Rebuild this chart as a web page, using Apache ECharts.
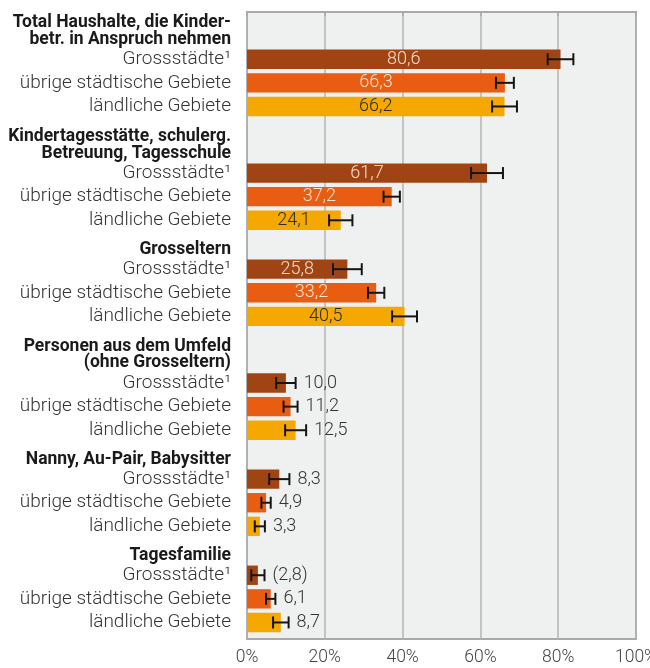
<!DOCTYPE html>
<html>
<head>
<meta charset="utf-8">
<script src="https://cdn.jsdelivr.net/npm/echarts@6/dist/echarts.min.js"></script>
<style>
  html, body { margin: 0; padding: 0; background: #fff; }
  #chart { width: 650px; height: 668px; }
</style>
</head>
<body>
<div id="chart"></div>
<script>
// Gruppen (Kopfzeilen) und Regionen
const groups = [
  'Total Haushalte, die Kinder-\nbetr. in Anspruch nehmen',
  'Kindertagesstätte, schulerg.\nBetreuung, Tagesschule',
  'Grosseltern',
  'Personen aus dem Umfeld\n(ohne Grosseltern)',
  'Nanny, Au-Pair, Babysitter',
  'Tagesfamilie'
];
const regions = ['Grossstädte¹', 'übrige städtische Gebiete', 'ländliche Gebiete'];

// Werte in %
const grossstaedte = [80.6, 61.7, 25.8, 10.0, 8.3, 2.8];
const uebrigeStaedtisch = [66.3, 37.2, 33.2, 11.2, 4.9, 6.1];
const laendlich = [66.2, 24.1, 40.5, 12.5, 3.3, 8.7];

// Vertrauensintervalle (+/-)
const errGross = [3.3, 4.1, 3.7, 2.5, 2.6, 1.7];
const errUebrig = [2.3, 2.1, 2.1, 1.8, 1.2, 1.2];
const errLaendlich = [3.2, 3.0, 3.2, 2.7, 1.3, 2.0];

// Werte in Klammern: [gruppe, region]
const bracketed = [[5, 0]];

const xTicks = [0, 20, 40, 60, 80, 100];

const colors = ['#a14414', '#e85d12', '#f5a800'];
const insideColors = ['#f6dccb', '#f9e2d2', '#2b2b2b'];
const FONT = 'Roboto, "Noto Sans", sans-serif';

// Zeilenpositionen (Einheit = Balkenabstand)
const rowPos = [];
let pos = 0;
groups.forEach((name, i) => {
  const n = name.split('\n').length;
  pos += (i === 0 ? 0.5 : 1.32) + 0.75 * n;
  rowPos.push([pos, pos + 1, pos + 2]);
  pos += 2;
});
const yMax = pos + 0.7;

const seriesValues = [grossstaedte, uebrigeStaedtisch, laendlich];
const seriesErrors = [errGross, errUebrig, errLaendlich];

function fmt(v, g, r) {
  let s = v.toFixed(1).replace('.', ',');
  if (bracketed.some(b => b[0] === g && b[1] === r)) s = '(' + s + ')';
  return s;
}

function makeRender(r) {
  return function (params, api) {
    const v = api.value(0), p = api.value(1), err = api.value(2), g = api.value(3);
    const p0 = api.coord([0, p]);
    const p1 = api.coord([v, p]);
    const lo = api.coord([v - err, p]);
    const hi = api.coord([v + err, p]);
    const h = api.size([0, 1])[1] * 0.82;
    const cy = p0[1];
    const children = [];
    children.push({
      type: 'rect',
      shape: { x: p0[0], y: cy - h / 2, width: p1[0] - p0[0], height: h },
      style: { fill: colors[r] }
    });
    // Fehlerbalken
    const cap = 6;
    const ls = { stroke: '#151515', lineWidth: 2 };
    children.push({ type: 'line', shape: { x1: lo[0], y1: cy, x2: hi[0], y2: cy }, style: ls });
    children.push({ type: 'line', shape: { x1: lo[0], y1: cy - cap, x2: lo[0], y2: cy + cap }, style: ls });
    children.push({ type: 'line', shape: { x1: hi[0], y1: cy - cap, x2: hi[0], y2: cy + cap }, style: ls });
    // Wertbeschriftung
    const inside = v > 20;
    children.push({
      type: 'text',
      x: inside ? (p0[0] + p1[0]) / 2 : hi[0] + 8,
      y: cy,
      style: {
        text: fmt(v, g, r),
        fill: inside ? insideColors[r] : '#333',
        fontSize: 18, fontFamily: FONT, fontWeight: 300,
        align: inside ? 'center' : 'left', verticalAlign: 'middle'
      }
    });
    // Zeilenbeschriftung
    children.push({
      type: 'text',
      x: p0[0] - 16,
      y: cy,
      style: {
        text: regions[r], fill: '#333',
        fontSize: 19, fontFamily: FONT, fontWeight: 300,
        align: 'right', verticalAlign: 'middle'
      }
    });
    if (r === 0) {
      children.push({
        type: 'text',
        x: p0[0] - 16,
        y: cy - h / 2 - 2,
        style: {
          text: groups[g], fill: '#1a1a1a',
          fontSize: 17.5, fontFamily: FONT, fontWeight: 'bold', lineHeight: 16.5,
          align: 'right', verticalAlign: 'bottom'
        }
      });
    }
    return { type: 'group', children: children };
  };
}

const series = regions.map((name, r) => ({
  name: name,
  type: 'custom',
  renderItem: makeRender(r),
  encode: { x: 0, y: 1 },
  clip: false,
  data: seriesValues[r].map((v, i) => [v, rowPos[i][r], seriesErrors[r][i], i])
}));

const chart = echarts.init(document.getElementById('chart'));
chart.setOption({
  animation: false,
  grid: {
    left: 247, right: 14, top: 12, bottom: 29,
    outerBoundsMode: 'none', containLabel: false,
    show: true, backgroundColor: '#eff0f0',
    borderColor: '#a9a9a9', borderWidth: 2
  },
  xAxis: {
    type: 'value',
    min: xTicks[0], max: xTicks[xTicks.length - 1], interval: 20,
    axisLine: { show: true, lineStyle: { color: '#a9a9a9', width: 2 } },
    axisTick: { show: true, length: 4, lineStyle: { color: '#a9a9a9', width: 1.5 } },
    splitLine: { show: true, lineStyle: { color: '#b5b5b5', width: 1.5 } },
    axisLabel: {
      formatter: '{value}%', color: '#444', fontSize: 17.5,
      fontFamily: FONT, fontWeight: 300, margin: 10
    }
  },
  yAxis: {
    type: 'value', inverse: true, min: 0, max: yMax, show: false
  },
  series: series
});
</script>
</body>
</html>
